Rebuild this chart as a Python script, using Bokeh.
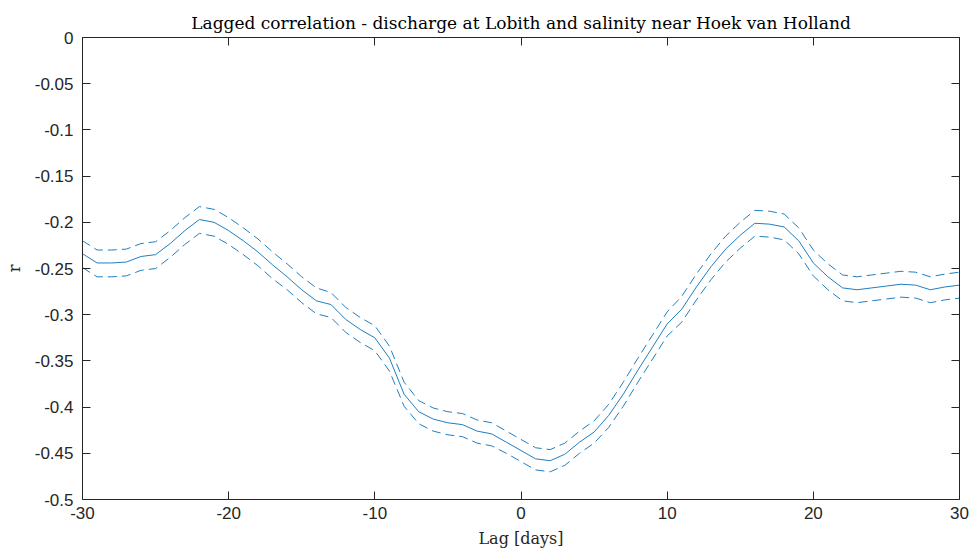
from bokeh.plotting import figure
from bokeh.models import Range1d, LinearAxis, FixedTicker, Title, CustomJSTickFormatter
from bokeh.embed import file_html
from bokeh.resources import INLINE

lags = list(range(-30, 31))
r_mean = [-0.234, -0.244, -0.244, -0.243, -0.237, -0.235, -0.223, -0.209, -0.197, -0.200,
          -0.209, -0.220, -0.232, -0.246, -0.259, -0.273, -0.285, -0.289, -0.305, -0.316,
          -0.325, -0.347, -0.386, -0.405, -0.413, -0.417, -0.419, -0.426, -0.429, -0.438,
          -0.447, -0.456, -0.458, -0.451, -0.438, -0.427, -0.409, -0.386, -0.360, -0.335,
          -0.310, -0.294, -0.270, -0.248, -0.229, -0.214, -0.201, -0.202, -0.205, -0.220,
          -0.244, -0.259, -0.271, -0.273, -0.271, -0.269, -0.267, -0.268, -0.273, -0.270,
          -0.268]
r_upper = [-0.220, -0.230, -0.230, -0.229, -0.223, -0.221, -0.209, -0.195, -0.183, -0.186,
           -0.195, -0.206, -0.218, -0.232, -0.245, -0.259, -0.271, -0.276, -0.292, -0.303,
           -0.312, -0.334, -0.373, -0.393, -0.401, -0.405, -0.407, -0.414, -0.417, -0.426,
           -0.435, -0.444, -0.446, -0.439, -0.426, -0.415, -0.397, -0.373, -0.347, -0.322,
           -0.297, -0.280, -0.256, -0.234, -0.215, -0.200, -0.187, -0.188, -0.191, -0.206,
           -0.230, -0.245, -0.257, -0.259, -0.257, -0.255, -0.253, -0.254, -0.259, -0.256,
           -0.254]
r_lower = [-0.249, -0.259, -0.259, -0.258, -0.252, -0.250, -0.238, -0.224, -0.212, -0.215,
           -0.224, -0.235, -0.247, -0.261, -0.273, -0.287, -0.299, -0.303, -0.319, -0.330,
           -0.339, -0.361, -0.399, -0.418, -0.426, -0.430, -0.432, -0.439, -0.442, -0.450,
           -0.459, -0.468, -0.470, -0.463, -0.450, -0.439, -0.422, -0.399, -0.373, -0.348,
           -0.323, -0.308, -0.284, -0.262, -0.243, -0.228, -0.215, -0.216, -0.219, -0.234,
           -0.258, -0.273, -0.285, -0.287, -0.285, -0.283, -0.281, -0.282, -0.287, -0.284,
           -0.282]

x_ticks = [-30, -20, -10, 0, 10, 20, 30]
x_tick_labels = ["-30", "-20", "-10", "0", "10", "20", "30"]
y_ticks = [-0.5, -0.45, -0.4, -0.35, -0.3, -0.25, -0.2, -0.15, -0.1, -0.05, 0.0]
y_tick_labels = ["-0.5", "-0.45", "-0.4", "-0.35", "-0.3", "-0.25", "-0.2", "-0.15", "-0.1", "-0.05", "0"]

title_text = "Lagged correlation - discharge at Lobith and salinity near Hoek van Holland"
x_label = "Lag [days]"
y_label = "r"

AX = "#262626"
LINE = "#1f7fc0"
SERIF = "DejaVu Serif"
SANS = "Liberation Sans"

p = figure(width=971, height=554, output_backend="svg", toolbar_location=None,
           x_range=Range1d(-30, 30), y_range=Range1d(-0.5, 0),
           min_border_left=82, min_border_right=12, min_border_top=37, min_border_bottom=55)
p.title = Title(text=title_text, text_font=SERIF, text_font_size="17px",
                text_font_style="normal", text_color="#000000", align="center",
                offset=0, standoff=9)
p.title_location = "above"
p.grid.visible = False
p.outline_line_color = None
p.background_fill_color = "white"
p.border_fill_color = "white"

p.line(lags, r_mean, line_color=LINE, line_width=1)
p.line(lags, r_upper, line_color=LINE, line_width=1, line_dash="9 5")
p.line(lags, r_lower, line_color=LINE, line_width=1, line_dash="9 5")

xt = FixedTicker(ticks=x_ticks)
yt = FixedTicker(ticks=y_ticks)

def style(ax):
    ax.axis_line_color = AX
    ax.axis_line_width = 1
    ax.major_tick_line_color = AX
    ax.major_tick_in = 8
    ax.major_tick_out = 0
    ax.minor_tick_line_color = None
    ax.major_label_text_font = SANS
    ax.major_label_text_font_size = "17px"
    ax.major_label_text_color = AX

xa = p.xaxis[0]
xa.ticker = xt
xa.major_label_overrides = {t: s for t, s in zip(x_ticks, x_tick_labels)}
style(xa)
xa.major_label_standoff = 7
xa.axis_label = x_label
xa.axis_label_text_font = SERIF
xa.axis_label_text_font_size = "16px"
xa.axis_label_text_font_style = "normal"
xa.axis_label_text_color = AX
xa.axis_label_standoff = 7

ya = p.yaxis[0]
ya.ticker = yt
ya.major_label_overrides = {t: s for t, s in zip(y_ticks, y_tick_labels)}
style(ya)
ya.major_label_standoff = 9
ya.axis_label = y_label
ya.axis_label_text_font = SERIF
ya.axis_label_text_font_size = "16px"
ya.axis_label_text_font_style = "normal"
ya.axis_label_text_color = AX
ya.axis_label_standoff = 8

blank = CustomJSTickFormatter(code="return ''")
ra = LinearAxis(ticker=yt, formatter=blank)
style(ra)
p.add_layout(ra, "right")
ta = LinearAxis(ticker=xt, formatter=blank)
style(ta)
p.add_layout(ta, "above")

open("out.html", "w").write(file_html(p, INLINE))
